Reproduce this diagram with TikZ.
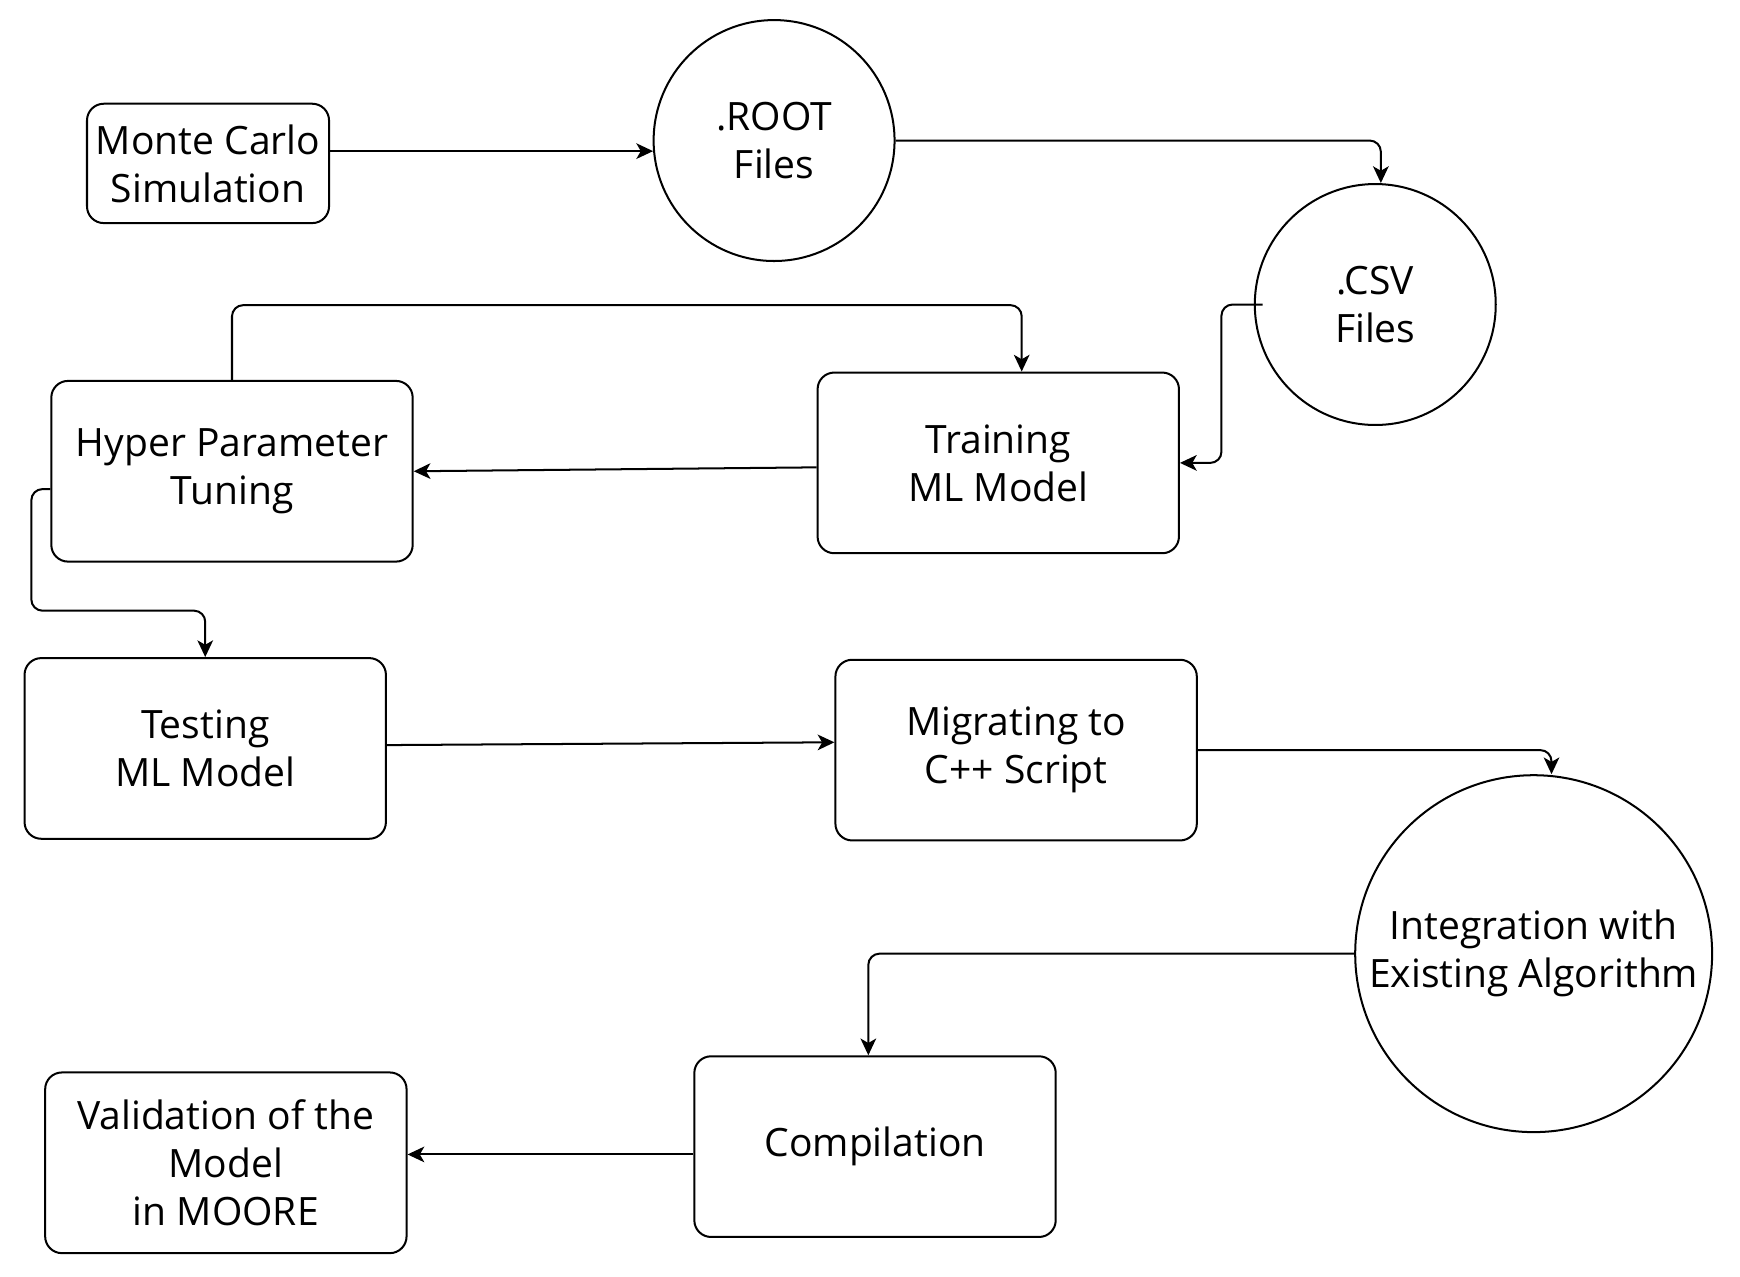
\documentclass[tikz,border=0pt]{standalone}
\usepackage{fontspec}
\setmainfont{Open Sans}
\usetikzlibrary{positioning, arrows.meta}

\tikzset{
  stepbox/.style={draw, rounded corners=15pt, line width=1.8pt, minimum width=324pt, minimum height=162pt, align=center, inner sep=0pt},
  datacirc/.style={draw, circle, line width=1.8pt, minimum size=216pt, align=center, inner sep=0pt},
  flow/.style={line width=1.8pt, rounded corners=10pt, -{Stealth[length=15pt,width=14pt,inset=4pt]}},
}

\begin{document}
\begin{tikzpicture}[x=1pt, y=-1pt, font=\fontsize{35}{43}\selectfont]

\useasboundingbox (0,0) rectangle (1560,1144);

% data files
\node[datacirc] (root) at (694,126) {.ROOT\\Files};
\node[datacirc] (csv) at (1233,273) {.CSV\\Files};
\node[datacirc, minimum size=320pt] (integ) at (1375,855) {Integration with\\Existing Algorithm};

% steps
\node[stepbox, minimum width=217pt, minimum height=107pt] (mc) at (186.5,146.5) {Monte Carlo\\Simulation};
\node[stepbox] (train) at (895,415) {Training\\ML Model};
\node[stepbox] (hyper) at (208,422.5) {Hyper Parameter\\Tuning};
\node[stepbox] (test) at (184,671) {Testing\\ML Model};
\node[stepbox] (migr) at (911,672.5) {Migrating to\\C++ Script};
\node[stepbox] (comp) at (784.5,1028) {Compilation};
\node[stepbox] (valid) at (202.5,1042.5) {Validation of the\\Model\\in MOORE};

% arrows
\draw[flow] (mc.east |- root.185) -- (root.185);
\draw[flow] (root.east) -| ([xshift=5pt]csv.north);
\draw[flow] ([xshift=8pt]csv.west) -- ++(-37,0) |- (train.east);
\draw[flow] ([yshift=-4pt]train.west) -- (hyper.east);
\draw[flow] (hyper.north) -- ++(0,-67) -| ([xshift=21pt]train.north);
\draw[flow] ([yshift=-16pt]hyper.west) -- ++(-17,0) -- ++(0,109) -| (test.north);
\draw[flow] ([yshift=3pt]test.east) -- ([yshift=7pt]migr.west);
\draw[flow] (migr.east) -| ([xshift=16pt]integ.north);
\draw[flow] (integ.west) -| ([xshift=-6pt]comp.north);
\draw[flow] ([yshift=-7pt]comp.west) -- ([yshift=7.5pt]valid.east);

\end{tikzpicture}
\end{document}
